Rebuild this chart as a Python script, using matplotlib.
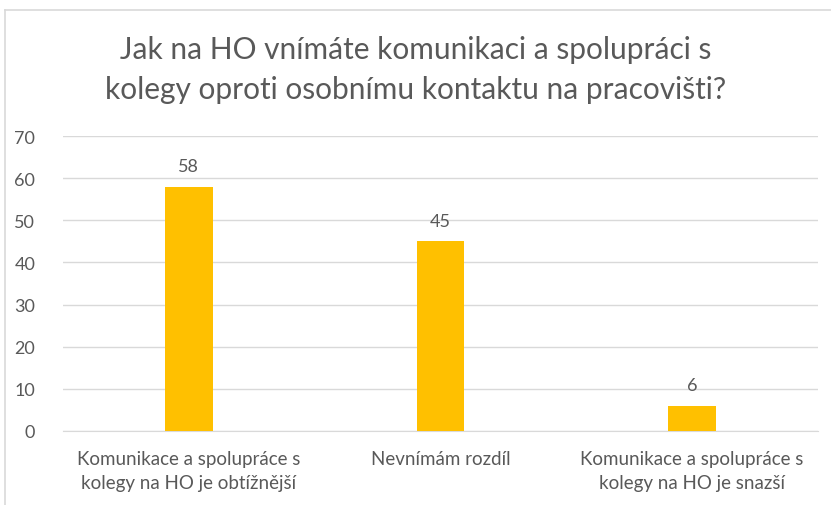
import matplotlib
matplotlib.use("Agg")
import matplotlib.pyplot as plt
from matplotlib.lines import Line2D

categories = ["Komunikace a spolupráce s\nkolegy na HO je obtížnější",
              "Nevnímám rozdíl",
              "Komunikace a spolupráce s\nkolegy na HO je snazší"]
values = [58, 45, 6]
yticks = [0, 10, 20, 30, 40, 50, 60, 70]
title_lines = ["Jak na HO vnímáte komunikaci a spolupráci s",
               "kolegy oproti osobnímu kontaktu na pracovišti?"]

plt.rcParams['font.family'] = ['Lato', 'DejaVu Sans']
txt = '#595959'
fig = plt.figure(figsize=(8.31, 5.06), dpi=100)
W, H = 831, 506
left, right, bottom, top = 63, 818, 432, 137
ax = fig.add_axes([left / W, 1 - bottom / H, (right - left) / W, (bottom - top) / H])

x = list(range(len(values)))
bars = ax.bar(x, values, width=0.19, color='#FFC000', zorder=3)
ax.set_xlim(-0.5, len(values) - 0.5)
ax.set_ylim(0, 70)
ax.set_yticks(yticks)
ax.set_yticklabels([str(t) for t in yticks], fontsize=13, color=txt)
ax.set_xticks(x)
ax.set_xticklabels(categories, fontsize=13.5, color=txt, linespacing=1.45, va='top')
ax.tick_params(axis='both', length=0)
ax.tick_params(axis='y', pad=20)
ax.tick_params(axis='x', pad=14)
ax.grid(axis='y', color='#D9D9D9', linewidth=1, zorder=0)
for s in ['top', 'right', 'left']:
    ax.spines[s].set_visible(False)
ax.spines['bottom'].set_color('#D9D9D9')
ax.set_facecolor('none')

for b, v in zip(bars, values):
    ax.annotate(str(v), (b.get_x() + b.get_width() / 2, v), xytext=(0, 9),
                textcoords='offset points', ha='center', va='bottom',
                fontsize=13, color=txt)

for i, (line, yc) in enumerate(zip(title_lines, [50, 90])):
    fig.text(0.5, 1 - yc / H, line, ha='center', va='center', fontsize=21.5,
             color=txt)

fig.add_artist(Line2D([5 / W, 1], [1 - 11 / H, 1 - 11 / H], color='#D9D9D9', lw=1.2, transform=fig.transFigure))
fig.add_artist(Line2D([5 / W, 5 / W], [0, 1 - 11 / H], color='#D9D9D9', lw=1.2, transform=fig.transFigure))

fig.savefig('out.png', dpi=100)
